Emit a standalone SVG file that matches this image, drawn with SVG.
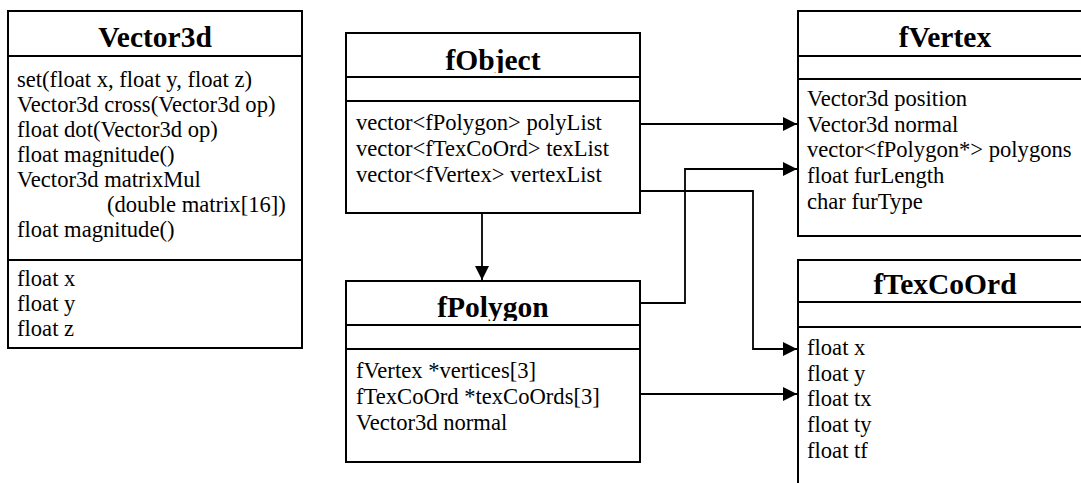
<svg xmlns="http://www.w3.org/2000/svg" width="1081" height="483" viewBox="0 0 1081 483">
<style>
.box{fill:#fff;stroke:#000;stroke-width:2}
.ln{stroke:#000;stroke-width:2;fill:none}
.title{font-family:"Liberation Serif","Times New Roman",serif;font-weight:bold;font-size:29.5px;text-anchor:middle;fill:#000}
.t{font-family:"Liberation Serif","Times New Roman",serif;font-size:22.6px;fill:#000}
.conn{stroke:#000;stroke-width:1.8;fill:none}
</style>
<defs>
<marker id="arr" markerUnits="userSpaceOnUse" markerWidth="15" markerHeight="15" refX="14" refY="7" orient="auto">
<path d="M0,0 L14,7 L0,14 z" fill="#000"/>
</marker>
<clipPath id="cObj"><rect x="346" y="33" width="294" height="40"/></clipPath>
<clipPath id="cPoly"><rect x="346" y="281" width="294" height="40"/></clipPath>
</defs>
<rect width="1081" height="483" fill="#fff"/>

<g id="Vector3d">
<rect class="box" x="8" y="11" width="294" height="337"/>
<line class="ln" x1="8" y1="56" x2="302" y2="56"/>
<line class="ln" x1="8" y1="260" x2="302" y2="260"/>
<text class="title" x="155" y="47">Vector3d</text>
<text class="t" x="17" y="87">set(float x, float y, float z)</text>
<text class="t" x="17" y="112">Vector3d cross(Vector3d op)</text>
<text class="t" x="17" y="137">float dot(Vector3d op)</text>
<text class="t" x="17" y="162">float magnitude()</text>
<text class="t" x="17" y="187">Vector3d matrixMul</text>
<text class="t" x="107" y="212">(double matrix[16])</text>
<text class="t" x="17" y="237">float magnitude()</text>
<text class="t" x="17" y="286">float x</text>
<text class="t" x="17" y="311">float y</text>
<text class="t" x="17" y="336">float z</text>
</g>

<g id="fObject">
<rect class="box" x="346" y="33" width="294" height="180"/>
<line class="ln" x1="346" y1="77" x2="640" y2="77"/>
<line class="ln" x1="346" y1="101" x2="640" y2="101"/>
<text class="title" x="493" y="70" clip-path="url(#cObj)">fObject</text>
<text class="t" x="356" y="130">vector&lt;fPolygon&gt; polyList</text>
<text class="t" x="356" y="156">vector&lt;fTexCoOrd&gt; texList</text>
<text class="t" x="356" y="182">vector&lt;fVertex&gt; vertexList</text>
</g>

<g id="fPolygon">
<rect class="box" x="346" y="281" width="294" height="181"/>
<line class="ln" x1="346" y1="325" x2="640" y2="325"/>
<line class="ln" x1="346" y1="349" x2="640" y2="349"/>
<text class="title" x="493" y="317" clip-path="url(#cPoly)">fPolygon</text>
<text class="t" x="356" y="378">fVertex *vertices[3]</text>
<text class="t" x="356" y="404">fTexCoOrd *texCoOrds[3]</text>
<text class="t" x="356" y="430">Vector3d normal</text>
</g>

<g id="fVertex">
<rect class="box" x="798" y="11" width="294" height="225"/>
<line class="ln" x1="798" y1="56" x2="1092" y2="56"/>
<line class="ln" x1="798" y1="79" x2="1092" y2="79"/>
<text class="title" x="945" y="47">fVertex</text>
<text class="t" x="807" y="106">Vector3d position</text>
<text class="t" x="807" y="132">Vector3d normal</text>
<text class="t" x="807" y="157">vector&lt;fPolygon*&gt; polygons</text>
<text class="t" x="807" y="183">float furLength</text>
<text class="t" x="807" y="209">char furType</text>
</g>

<g id="fTexCoOrd">
<rect class="box" x="798" y="260" width="294" height="240"/>
<line class="ln" x1="798" y1="302" x2="1092" y2="302"/>
<line class="ln" x1="798" y1="327" x2="1092" y2="327"/>
<text class="title" x="945" y="294">fTexCoOrd</text>
<text class="t" x="807" y="355">float x</text>
<text class="t" x="807" y="381">float y</text>
<text class="t" x="807" y="406">float tx</text>
<text class="t" x="807" y="432">float ty</text>
<text class="t" x="807" y="458">float tf</text>
</g>

<g id="connectors">
<path class="conn" d="M641,124 H797" marker-end="url(#arr)"/>
<path class="conn" d="M641,191 H753 V349 H797" marker-end="url(#arr)"/>
<path class="conn" d="M482,214 V280" marker-end="url(#arr)"/>
<path class="conn" d="M641,303 H685 V169 H797" marker-end="url(#arr)"/>
<path class="conn" d="M641,394 H797" marker-end="url(#arr)"/>
</g>
</svg>
